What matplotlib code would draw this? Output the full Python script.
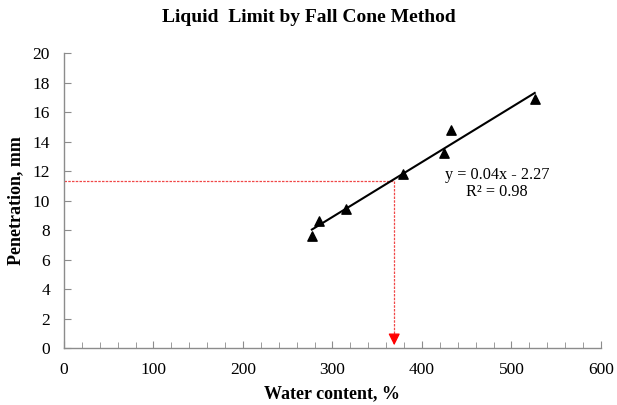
import numpy as np
import matplotlib
matplotlib.use('Agg')
import matplotlib.pyplot as plt

plt.rcParams['font.family'] = ['Liberation Serif', 'DejaVu Serif']

# data
water_content = [277, 285, 315, 379, 425, 433, 526]
penetration = [7.6, 8.6, 9.4, 11.8, 13.2, 14.8, 16.9]
ll_x = 369  # liquid limit
ll_y = 11.3
eq_text = 'y = 0.04x - 2.27\nR² = 0.98'

x_ticks = list(range(0, 601, 100))
y_ticks = list(range(0, 21, 2))

fig = plt.figure(figsize=(6.17, 4.05), dpi=100)
ax = fig.add_axes([0.1037, 0.1407, 0.8703, 0.7283])

# trend line over the data range
coef = np.polyfit(water_content, penetration, 1)
xs = np.array([min(water_content), max(water_content)])
ax.plot(xs, np.polyval(coef, xs), color='black', lw=1.5, zorder=3)
ax.scatter(water_content, penetration, marker='^', s=45, color='black', zorder=4)

# liquid limit guide lines
red = '#f04848'
ax.plot([0, ll_x], [ll_y, ll_y], color=red, lw=0.9, ls=(0, (2, 1)), zorder=2)
ax.plot([ll_x, ll_x], [ll_y, 0.5], color=red, lw=0.9, ls=(0, (2, 1)), zorder=2)
ax.annotate('', xy=(ll_x, 0), xytext=(ll_x, 0.9),
            arrowprops=dict(arrowstyle='-|>,head_width=0.35,head_length=0.7',
                            color='red', lw=0.9), zorder=5)

ax.text(484, 11.15, eq_text, ha='center', va='center', fontsize=11.7,
        linespacing=1.05)

ax.set_xlim(0, 600)
ax.set_ylim(0, 20)
ax.set_xticks(x_ticks)
ax.set_yticks(y_ticks)
ax.set_xticks(range(0, 601, 20), minor=True)
for s in ['top', 'right']:
    ax.spines[s].set_visible(False)
for s in ['left', 'bottom']:
    ax.spines[s].set_color('#8c8c8c')
    ax.spines[s].set_linewidth(1)
ax.tick_params(axis='both', which='both', direction='in', color='#8c8c8c',
               labelsize=12.5)
ax.tick_params(axis='x', which='major', length=5, pad=10)
ax.tick_params(axis='x', which='minor', length=4)
ax.tick_params(axis='y', which='major', length=5, pad=10)

ax.set_xlabel('Water content, %', fontsize=13, fontweight='bold', labelpad=5)
ax.set_ylabel('Penetration, mm', fontsize=13, fontweight='bold', labelpad=6)
fig.text(0.5, 0.957, 'Liquid  Limit by Fall Cone Method', ha='center',
         va='center', fontsize=14, fontweight='bold')

fig.savefig('out.png', dpi=100)
